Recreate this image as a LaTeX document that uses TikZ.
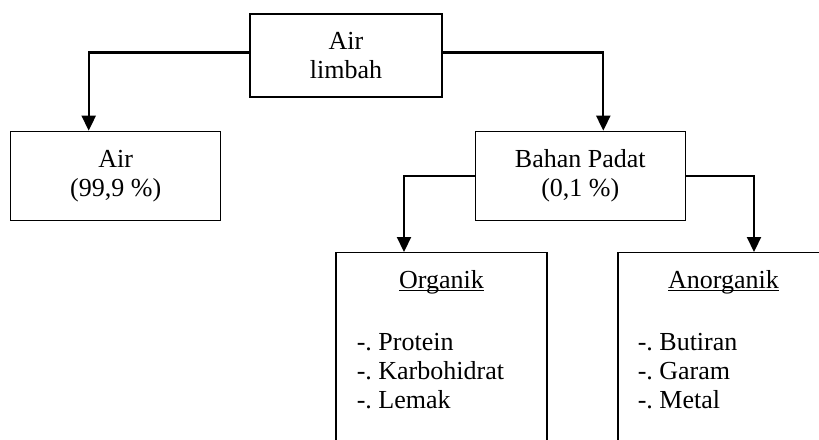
\documentclass[tikz,border=0pt]{standalone}
\usepackage{fontspec}
\setmainfont{Liberation Serif}
\usepackage{tikz}
\usetikzlibrary{arrows.meta, positioning}
\frenchspacing

\begin{document}
\begin{tikzpicture}[
        font=\fontsize{13pt}{14.5pt}\selectfont,
        node distance=16.5pt and 16pt,
        box/.style={rectangle, draw, line width=0.65pt, minimum width=105pt, minimum height=44.5pt, align=center, inner sep=2pt},
        openbox/.style={rectangle, draw, line width=0.65pt, minimum width=105.5pt, minimum height=114pt, anchor=north},
        link/.style={-{Triangle[width=7pt, length=7.5pt]}, line width=1.1pt}
    ]
    \clip (0,0) rectangle (409.5pt,-219.5pt);

    % Nodes
    \node[box, minimum width=96pt, minimum height=41.5pt] (limbah) at (173pt,-27.75pt) {Air\\limbah};
    \node[box, below left=16.5pt and 14pt of limbah] (air) {Air\\(99,9 \%)};
    \node[box, below right=16.5pt and 16pt of limbah] (padat) {Bahan Padat\\(0,1 \%)};
    \node[openbox] (organik) at (220.75pt,-126pt) {};
    \node[openbox] (anorganik) at (361.75pt,-126pt) {};

    % Texts in the open boxes
    \node[anchor=base] (organikhead) at ([yshift=-18pt]organik.north) {\underline{\smash{Organik}}};
    \node[anchor=base west, align=left, inner sep=0pt] (organiklist) at ([xshift=10.5pt, yshift=-78pt]organik.north west) {-. Protein\\-. Karbohidrat\\-. Lemak};
    \node[anchor=base] (anorganikhead) at ([yshift=-18pt]anorganik.north) {\underline{\smash{Anorganik}}};
    \node[anchor=base west, align=left, inner sep=0pt] (anorganiklist) at ([xshift=10pt, yshift=-78pt]anorganik.north west) {-. Butiran\\-. Garam\\-. Metal};

    % Edges
    \draw[link] ([yshift=1.5pt]limbah.west) -| ([xshift=-13.5pt]air.north);
    \draw[link] ([yshift=1.5pt]limbah.east) -| ([xshift=11.5pt]padat.north);
    \draw[link] (padat.west) -| ([xshift=-18.75pt]organik.north);
    \draw[link] (padat.east) -| ([xshift=15.25pt]anorganik.north);

\end{tikzpicture}
\end{document}
